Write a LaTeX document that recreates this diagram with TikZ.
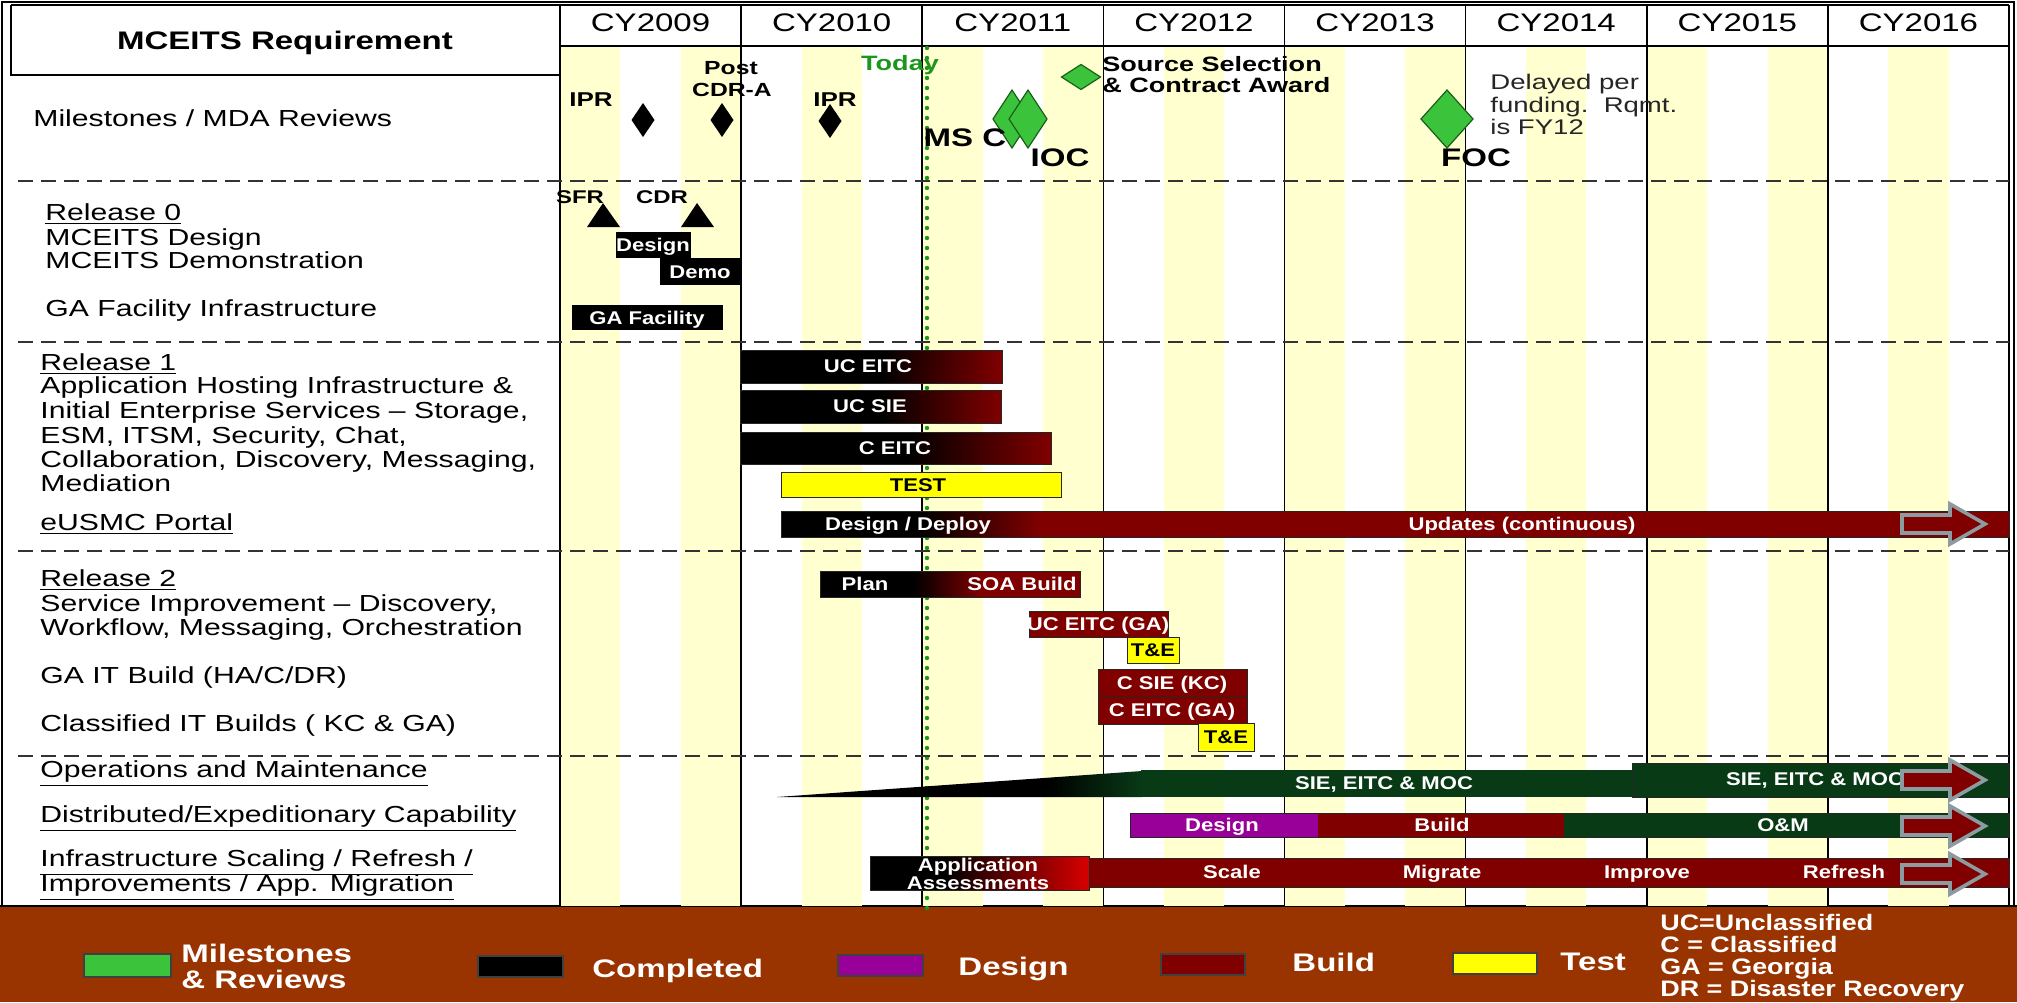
\documentclass[tikz,border=0pt]{standalone}
\usepackage{fontspec}
\setmainfont{Liberation Sans}[FakeStretch=1.3]
\newfontfamily\barfont{Liberation Sans}[FakeStretch=1.2]
\definecolor{barred}{RGB}{128,0,0}
\definecolor{brightred}{RGB}{215,0,0}
\definecolor{dkgreen}{RGB}{8,58,22}
\definecolor{purp}{RGB}{153,0,153}
\definecolor{yel}{RGB}{255,255,0}
\definecolor{stripe}{RGB}{255,255,208}
\definecolor{band}{RGB}{153,51,0}
\definecolor{msgreen}{RGB}{60,195,60}
\definecolor{msedge}{RGB}{25,95,25}
\definecolor{todaygreen}{RGB}{30,150,30}
\definecolor{arrgray}{RGB}{140,155,160}
\pgfdeclarehorizontalshading{blkredA}{100bp}{color(0bp)=(black); color(25bp)=(black); color(52bp)=(black); color(75bp)=(barred); color(100bp)=(barred)}
\pgfdeclarehorizontalshading{blkredB}{100bp}{color(0bp)=(black); color(25bp)=(black); color(43bp)=(black); color(56bp)=(barred); color(100bp)=(barred)}
\pgfdeclarehorizontalshading{blkbright}{100bp}{color(0bp)=(black); color(25bp)=(black); color(42bp)=(black); color(75bp)=(brightred); color(100bp)=(brightred)}
\pgfdeclarehorizontalshading{blkgreen}{100bp}{color(0bp)=(black); color(25bp)=(black); color(62bp)=(black); color(75bp)=(dkgreen); color(100bp)=(dkgreen)}
\newcommand{\blockarrow}[1]{%
\draw[barrow] (1902,{#1-9}) -- (1950,{#1-9}) -- (1950,{#1-20}) -- (1985,{#1}) -- (1950,{#1+20}) -- (1950,{#1+9}) -- (1902,{#1+9}) -- cycle;}
\begin{document}
\begin{tikzpicture}[x=0.5pt,y=-0.5pt,
 lbl/.style={anchor=west,inner sep=0pt,text depth=0pt,font=\fontsize{11.6}{13}\selectfont},
 yr/.style={inner sep=0pt,text depth=0pt,font=\fontsize{12.7}{14}\selectfont},
 hdr/.style={inner sep=0pt,text depth=0pt,font=\bfseries\fontsize{12.7}{14}\selectfont},
 bl/.style={inner sep=0pt,text depth=0pt,font=\barfont\bfseries\fontsize{9.2}{10}\selectfont,text=white},
 blk/.style={bl,text=black},
 ms/.style={inner sep=0pt,text depth=0pt,font=\bfseries\fontsize{10}{11}\selectfont},
 big/.style={inner sep=0pt,text depth=0pt,font=\bfseries\fontsize{12.7}{14}\selectfont},
 note/.style={anchor=west,inner sep=0pt,text depth=0pt,text=black!85,font=\fontsize{10.6}{12}\selectfont},
 leg/.style={anchor=west,inner sep=0pt,text depth=0pt,text=white,font=\bfseries\fontsize{12.7}{14}\selectfont},
 abbr/.style={anchor=west,inner sep=0pt,text depth=0pt,text=white,font=\barfont\bfseries\fontsize{11.2}{12}\selectfont},
 gbar/.style={draw=black!85,line width=0.5pt},
 barrow/.style={fill=barred,draw=arrgray,line width=1.8pt,line join=miter},
 gdia/.style={fill=msgreen,draw=msedge,line width=0.6pt},
 sw/.style={draw=black!75,line width=1pt},
 vline/.style={line width=0.8pt,black},
 sepline/.style={line width=0.9pt,black!80,dash pattern=on 7.5pt off 4pt}]
\useasboundingbox (0,0) rectangle (2017,1002);
\fill[white] (0,0) rectangle (2017,1002);
% legend band
\fill[band] (0,906) rectangle (2017,1002);
\draw[line width=0.8pt] (0,906) -- (2017,906);
% stripes
\foreach \k in {0,2,...,22} \fill[stripe] ({560+\k*60.375},46) rectangle ({560+(\k+1)*60.375},906);
% year lines
\foreach \i in {0,...,8} \draw[vline] ({560+\i*181.125},5) -- ({560+\i*181.125},906);
% header
\draw[vline] (11,5) -- (2009,5);
\draw[vline] (560,46) -- (2009,46);
\draw[vline] (11,5) -- (11,75) -- (560,75);
\node[hdr] (req) at (285,40) {MCEITS Requirement};
\foreach \i/\y in {0/2009,1/2010,2/2011,3/2012,4/2013,5/2014,6/2015,7/2016}
  \node[yr] (cy\y) at ({560+(\i+0.5)*181.125},23) {CY\y};
% outer frame
\draw[line width=1pt] (2,906) -- (2,2) -- (2014,2) -- (2014,906);
% today line
\draw[todaygreen,line width=2.2pt,dash pattern=on 0pt off 5pt,line cap=round] (927,48) -- (927,916);
% separators
\foreach \yy in {181,342,551,756} \draw[sepline] (18,\yy) -- (2009,\yy);

% ---- left labels
\node[lbl] (l0) at (33,118) {Milestones / MDA Reviews};
\node[lbl] (l1) at (45,212) {\underline{Release 0}};
\node[lbl] (l2) at (45,237) {MCEITS Design};
\node[lbl] (l3) at (45,260) {MCEITS Demonstration};
\node[lbl] (l4) at (45,308) {GA Facility Infrastructure};
\node[lbl] (l5) at (40,362) {\underline{Release 1}};
\node[lbl] (l6) at (40,385) {Application Hosting Infrastructure \&};
\node[lbl] (l7) at (40,410) {Initial Enterprise Services – Storage,};
\node[lbl] (l8) at (40,435) {ESM, ITSM, Security, Chat,};
\node[lbl] (l9) at (40,459) {Collaboration, Discovery, Messaging,};
\node[lbl] (l10) at (40,483) {Mediation};
\node[lbl] (l11) at (40,522) {\underline{eUSMC Portal}};
\node[lbl] (l12) at (40,578) {\underline{Release 2}};
\node[lbl] (l13) at (40,603) {Service Improvement – Discovery,};
\node[lbl] (l14) at (40,627) {Workflow, Messaging, Orchestration};
\node[lbl] (l15) at (40,675) {GA IT Build (HA/C/DR)};
\node[lbl] (l16) at (40,723) {Classified IT Builds ( KC \& GA)};
\node[lbl] (l17) at (40,769) {\underline{Operations and Maintenance}};
\node[lbl] (l18) at (40,814) {\underline{Distributed/Expeditionary Capability}};
\node[lbl] (l19) at (40,858) {\underline{Infrastructure Scaling / Refresh /}};
\node[lbl] (l20) at (40,883) {\underline{Improvements / App. Migration}};

% ---- milestones row
\fill (631.5,120) -- (643,103) -- (654.5,120) -- (643,137) -- cycle;
\fill (710.5,120) -- (722,103) -- (733.5,120) -- (722,137) -- cycle;
\fill (818.5,121) -- (830,104) -- (841.5,121) -- (830,138) -- cycle;
\draw[gdia] (993,119) -- (1012,90) -- (1031,119) -- (1012,148) -- cycle;
\draw[gdia] (1009,119) -- (1028,90) -- (1047,119) -- (1028,148) -- cycle;
\draw[gdia] (1061.5,77) -- (1081,64.5) -- (1100.5,77) -- (1081,89.5) -- cycle;
\draw[gdia] (1421,119) -- (1447,90) -- (1473,119) -- (1447,148) -- cycle;
\node[ms] (ipr1) at (591,100) {IPR};
\node[ms,font=\bfseries\fontsize{9.5}{10}\selectfont] (post) at (731,68) {Post};
\node[ms,font=\bfseries\fontsize{9.5}{10}\selectfont] (cdra) at (732,90) {CDR-A};
\node[ms] (ipr2) at (835,100) {IPR};
\node[ms,text=todaygreen,font=\bfseries\fontsize{10.4}{11}\selectfont] (today) at (900,63) {Today};
\node[big] (msc) at (965,138) {MS C};
\node[big] (ioc) at (1060,158) {IOC};
\node[ms,anchor=west,font=\bfseries\fontsize{10.4}{11}\selectfont] (src1) at (1102,64) {Source Selection};
\node[ms,anchor=west,font=\bfseries\fontsize{10.4}{11}\selectfont] (src2) at (1102,85) {\& Contract Award};
\node[note] (dl1) at (1490,82) {Delayed per};
\node[note] (dl2) at (1490,105) {funding.\ \ Rqmt.};
\node[note] (dl3) at (1490,127) {is FY12};
\node[big] (foc) at (1476,158) {FOC};

% ---- release 0
\node[ms,font=\bfseries\fontsize{9.2}{10}\selectfont] (sfr) at (580,197) {SFR};
\node[ms,font=\bfseries\fontsize{9.2}{10}\selectfont] (cdr) at (662,197) {CDR};
\fill (603,203) -- (620,227) -- (587,227) -- cycle;
\fill (697,203) -- (714,227) -- (681,227) -- cycle;
\fill (616,232) rectangle (691,258);
\node[bl] (r0d) at (653,245) {Design};
\fill (660,258) rectangle (740,285);
\node[bl] (r0m) at (700,272) {Demo};
\fill (572,305) rectangle (723,330);
\node[bl] (r0g) at (647,318) {GA Facility};

% ---- release 1
\shadedraw[shading=blkredA,gbar] (740,350) rectangle (1002,383);
\node[bl] (r1a) at (868,366) {UC EITC};
\shadedraw[shading=blkredA,gbar] (740,390) rectangle (1001,423);
\node[bl] (r1b) at (870,406) {UC SIE};
\shadedraw[shading=blkredA,gbar] (740,432) rectangle (1051,464);
\node[bl] (r1c) at (895,448) {C EITC};
\draw[fill=yel,gbar] (781,472) rectangle (1061,497);
\node[blk] (r1t) at (918,485) {TEST};
\fill[barred] (1040,511) rectangle (2009,537);
\shade[shading=blkredA] (781,511) rectangle (1040,537);
\draw[gbar] (781,511) rectangle (2009,537);
\node[bl] (r1d) at (908,524) {Design / Deploy};
\node[bl] (r1u) at (1522,524) {Updates (continuous)};
\blockarrow{524}

% ---- release 2
\shadedraw[shading=blkredB,gbar] (820,571) rectangle (1080,597);
\node[bl] (r2p) at (865,584) {Plan};
\node[bl] (r2s) at (1022,584) {SOA Build};
\draw[fill=barred,gbar] (1029,611) rectangle (1168,637);
\node[bl] (r2u) at (1098,624) {UC EITC (GA)};
\draw[fill=yel,gbar] (1127,637) rectangle (1179,663);
\node[blk] (r2t1) at (1153,650) {T\&E};
\draw[fill=barred,gbar] (1098,669) rectangle (1247,697);
\node[bl] (r2c1) at (1172,683) {C SIE (KC)};
\draw[fill=barred,gbar] (1098,697) rectangle (1247,724);
\node[bl] (r2c2) at (1172,710) {C EITC (GA)};
\draw[fill=yel,gbar] (1198,723) rectangle (1254,751);
\node[blk] (r2t2) at (1226,737) {T\&E};

% ---- O&M
\shade[shading=blkgreen] (777,797) -- (1142,771) -- (1142,797) -- cycle;
\fill[dkgreen] (1141,770) rectangle (1632,797);
\draw[fill=dkgreen,gbar] (1632,763) rectangle (2009,797);
\node[bl] (om1) at (1384,783) {SIE, EITC \& MOC};
\node[bl] (om2) at (1815,779) {SIE, EITC \& MOC};
\blockarrow{780}

% ---- distributed
\fill[purp] (1130,813) rectangle (1318,837);
\fill[barred] (1318,813) rectangle (1564,837);
\fill[dkgreen] (1564,813) rectangle (2009,837);
\draw[gbar] (1130,813) rectangle (2009,837);
\node[bl] (dd) at (1222,825) {Design};
\node[bl] (db) at (1442,825) {Build};
\node[bl] (do) at (1783,825) {O\&M};
\blockarrow{826}

% ---- infrastructure
\draw[fill=barred,gbar] (1089,858) rectangle (2009,887);
\shadedraw[shading=blkbright,gbar] (870,856) rectangle (1089,890);
\node[bl] (aa1) at (978,865) {Application};
\node[bl] (aa2) at (978,883) {Assessments};
\node[bl] (is1) at (1232,872) {Scale};
\node[bl] (is2) at (1442,872) {Migrate};
\node[bl] (is3) at (1647,872) {Improve};
\node[bl] (is4) at (1844,872) {Refresh};
\blockarrow{874}

% ---- legend
\draw[sw,fill=msgreen] (84,954) rectangle (171,977);
\node[leg] (lg1a) at (181,953) {Milestones};
\node[leg] (lg1b) at (181,979) {\& Reviews};
\draw[sw,fill=black] (478,956) rectangle (563,977);
\node[leg] (lg2) at (592,968) {Completed};
\draw[sw,fill=purp] (838,955) rectangle (923,976);
\node[leg] (lg3) at (958,966) {Design};
\draw[sw,fill=barred] (1161,954) rectangle (1245,975);
\node[leg] (lg4) at (1292,962) {Build};
\draw[sw,fill=yel] (1453,953) rectangle (1537,974);
\node[leg] (lg5) at (1560,962) {Test};
\node[abbr] (ab1) at (1660,922) {UC=Unclassified};
\node[abbr] (ab2) at (1660,944) {C = Classified};
\node[abbr] (ab3) at (1660,966) {GA = Georgia};
\node[abbr] (ab4) at (1660,988) {DR = Disaster Recovery};
\end{tikzpicture}
\end{document}
